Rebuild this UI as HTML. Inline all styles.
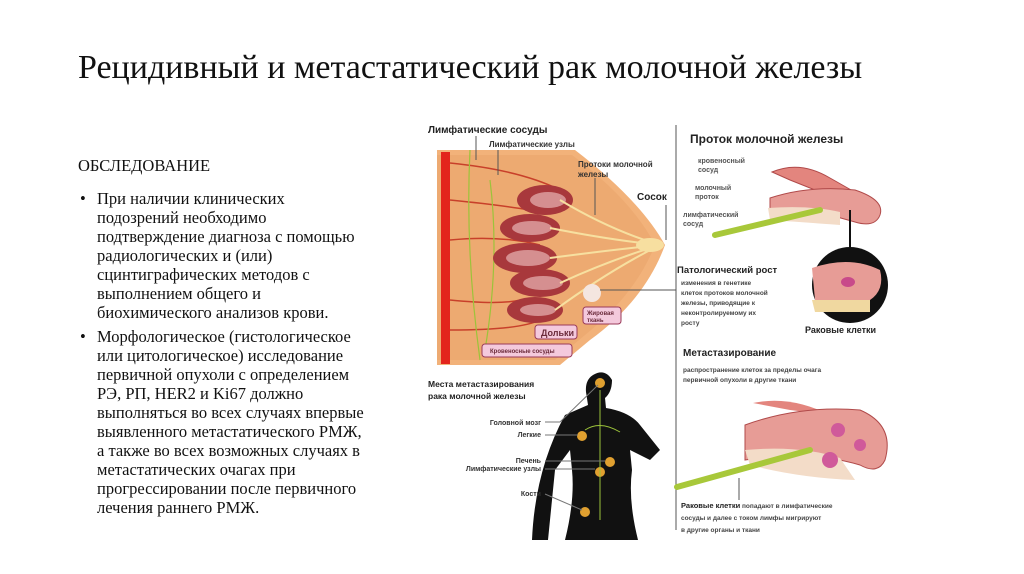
<!DOCTYPE html>
<html><head><meta charset="utf-8"><style>
body{margin:0;width:1024px;height:574px;background:#fff;position:relative;overflow:hidden;font-family:"Liberation Serif",serif;color:#111}
.t{position:absolute;white-space:nowrap}
#title{left:78px;top:49px;font-size:34px}
.b{font-size:16.5px;line-height:19px}
</style></head><body>
<div class="t" id="title">Рецидивный и метастатический рак молочной железы</div>
<div class="t b" style="left:78px;top:156px">ОБСЛЕДОВАНИЕ</div>
<div class="t b" style="left:80px;top:189px">•</div>
<div class="t b" style="left:97px;top:189px">При наличии клинических<br>подозрений необходимо<br>подтверждение диагноза с помощью<br>радиологических и (или)<br>сцинтиграфических методов с<br>выполнением общего и<br>биохимического анализов крови.</div>
<div class="t b" style="left:80px;top:327px">•</div>
<div class="t b" style="left:97px;top:327px">Морфологическое (гистологическое<br>или цитологическое) исследование<br>первичной опухоли с определением<br>РЭ, РП, HER2 и Ki67 должно<br>выполняться во всех случаях впервые<br>выявленного метастатического РМЖ,<br>а также во всех возможных случаях в<br>метастатических очагах при<br>прогрессировании после первичного<br>лечения раннего РМЖ.</div>

<svg width="1024" height="574" style="position:absolute;left:0;top:0" font-family="Liberation Sans, sans-serif" font-weight="bold">
<path d="M437 150 L575 150 Q640 200 665 245 Q645 300 590 340 L560 365 L437 365 Z" fill="#f2b27a"/>
<path d="M437 155 L572 155 Q632 200 655 245 Q635 295 585 335 L555 360 L437 360 Z" fill="#e9a56a" opacity=".6"/>
<rect x="441" y="152" width="9" height="212" fill="#e3241c"/>
<g stroke="#c8402a" stroke-width="1.5" fill="none">
<path d="M450 163 Q520 170 560 190"/><path d="M450 200 Q500 205 530 210"/><path d="M450 240 Q500 235 540 245"/>
<path d="M450 300 Q500 305 520 300"/><path d="M450 330 Q520 330 540 320"/></g>
<g stroke="#9cc33a" stroke-width="1.2" fill="none"><path d="M470 150 Q465 250 480 360"/><path d="M490 180 Q500 260 485 350"/></g>
<g fill="#a8383c"><ellipse cx="545" cy="200" rx="28" ry="15"/><ellipse cx="530" cy="228" rx="30" ry="14"/><ellipse cx="525" cy="258" rx="32" ry="15"/><ellipse cx="540" cy="283" rx="30" ry="14"/><ellipse cx="535" cy="310" rx="28" ry="13"/></g>
<g fill="#e8b4b4" opacity=".7"><ellipse cx="548" cy="200" rx="18" ry="8"/><ellipse cx="532" cy="228" rx="20" ry="7"/><ellipse cx="528" cy="258" rx="22" ry="8"/><ellipse cx="543" cy="283" rx="20" ry="7"/><ellipse cx="538" cy="310" rx="18" ry="6"/></g>
<g stroke="#f7e0a0" stroke-width="2" fill="none"><path d="M560 200 Q610 230 660 245"/><path d="M550 228 Q610 240 660 245"/><path d="M550 258 Q610 250 660 245"/><path d="M560 283 Q610 260 660 245"/><path d="M555 310 Q610 270 660 245"/></g>
<ellipse cx="650" cy="245" rx="14" ry="7" fill="#f7dfa0"/>
<circle cx="592" cy="293" r="9" fill="#f4e6e0"/>
<g fill="#f4c9dc" stroke="#9a3a5a"><rect x="583" y="307" width="38" height="17" rx="3"/><rect x="535" y="325" width="42" height="14" rx="3"/><rect x="482" y="344" width="90" height="13" rx="3"/></g>
<g font-size="6" fill="#6a2a3a"><text x="587" y="315">Жировая</text><text x="587" y="322">ткань</text><text x="490" y="353">Кровеносные сосуды</text></g>
<text x="541" y="336" font-size="9" fill="#6a2a3a">Дольки</text>
<g font-size="10" fill="#222"><text x="428" y="133">Лимфатические сосуды</text></g>
<g font-size="8" fill="#333"><text x="489" y="147">Лимфатические узлы</text><text x="578" y="167">Протоки молочной</text><text x="578" y="177">железы</text></g>
<text x="637" y="200" font-size="10" fill="#222">Сосок</text>
<g stroke="#555" fill="none" stroke-width="1"><path d="M476 136 V160"/><path d="M498 150 V175"/><path d="M595 178 V215"/><path d="M666 205 V240"/><path d="M676 125 V530"/><path d="M600 290 H676"/></g>
<text x="690" y="143" font-size="12" fill="#222">Проток молочной железы</text>
<g font-size="7" fill="#555"><text x="698" y="163">кровеносный</text><text x="698" y="172">сосуд</text><text x="695" y="190">молочный</text><text x="695" y="199">проток</text><text x="683" y="217">лимфатический</text><text x="683" y="226">сосуд</text></g>
<path d="M772 172 Q800 160 830 178 L860 195 L835 198 L790 180 Z" fill="#e3857e" stroke="#b04a4a"/>
<path d="M770 198 Q810 185 855 190 Q885 200 880 215 Q875 228 855 222 L830 215 Q795 205 770 215 Z" fill="#e79c96" stroke="#b04a4a"/>
<path d="M768 208 Q810 205 840 212 L840 225 Q800 222 770 220 Z" fill="#f3dcc8"/>
<path d="M715 235 L820 210" stroke="#a8c83a" stroke-width="6" stroke-linecap="round"/>
<path d="M850 210 V255" stroke="#111" stroke-width="2"/>
<circle cx="850" cy="285" r="38" fill="#111"/>
<path d="M812 268 Q850 255 880 270 Q885 290 870 300 L815 300 Z" fill="#e79c96"/>
<ellipse cx="848" cy="282" rx="7" ry="5" fill="#c84a8a"/>
<path d="M812 300 H870 V312 H815 Z" fill="#f0d8a0"/>
<text x="677" y="273" font-size="9.5" fill="#222">Патологический рост</text>
<g font-size="6.5" fill="#444"><text x="681" y="285">изменения в генетике</text><text x="681" y="295">клеток протоков молочной</text><text x="681" y="305">железы, приводящие к</text><text x="681" y="315">неконтролируемому их</text><text x="681" y="325">росту</text></g>
<text x="805" y="333" font-size="9" fill="#222">Раковые клетки</text>
<text x="683" y="356" font-size="10" fill="#222">Метастазирование</text>
<g font-size="6.5" fill="#444"><text x="683" y="372">распространение клеток за пределы очага</text><text x="683" y="382">первичной опухоли в другие ткани</text></g>
<path d="M753 403 Q790 395 830 415 L790 410 Z" fill="#e3857e"/>
<path d="M745 425 Q800 405 860 410 Q895 425 885 460 Q878 475 860 465 Q810 450 745 460 Z" fill="#e79c96" stroke="#b04a4a"/>
<path d="M745 450 Q800 445 840 458 L855 480 Q800 478 750 465 Z" fill="#f3dcc8"/>
<g fill="#d05a9a"><circle cx="838" cy="430" r="7"/><circle cx="830" cy="460" r="8"/><circle cx="860" cy="445" r="6"/></g>
<path d="M677 487 L810 450" stroke="#a8c83a" stroke-width="6" stroke-linecap="round"/>
<path d="M739 478 V500" stroke="#555"/>
<g font-size="6.5" fill="#444"><text x="681" y="508"><tspan font-size="7.5" fill="#222">Раковые клетки</tspan> попадают в лимфатические</text><text x="681" y="520">сосуды и далее с током лимфы мигрируют</text><text x="681" y="532">в другие органы и ткани</text></g>
<g font-size="8.5" fill="#222"><text x="428" y="387">Места метастазирования</text><text x="428" y="399">рака молочной железы</text></g>
<path d="M593 375 Q605 368 612 380 Q612 392 605 398 L606 408 Q630 412 640 425 L660 450 L650 460 L630 450 L632 470 Q628 500 638 540 L565 540 Q575 500 572 470 L570 450 L555 470 L548 540 L532 540 Q535 470 565 415 L588 405 L586 392 Q585 380 593 375 Z" fill="#111"/>
<g fill="#e0a030"><circle cx="600" cy="383" r="5"/><circle cx="582" cy="436" r="5"/><circle cx="610" cy="462" r="5"/><circle cx="600" cy="472" r="5"/><circle cx="585" cy="512" r="5"/></g>
<g stroke="#9cc33a" stroke-width="1" fill="none"><path d="M600 390 V520"/><path d="M585 430 Q600 420 620 432"/></g>
<g font-size="7" fill="#333" text-anchor="end"><text x="541" y="425">Головной мозг</text><text x="541" y="437">Легкие</text><text x="541" y="463">Печень</text><text x="541" y="471">Лимфатические узлы</text><text x="541" y="496">Кости</text></g>
<g stroke="#777" fill="none"><path d="M545 422 H560 L598 385"/><path d="M545 435 H578"/><path d="M545 461 H605"/><path d="M545 469 H595"/><path d="M545 494 L582 510"/></g>
</svg>
</body></html>
